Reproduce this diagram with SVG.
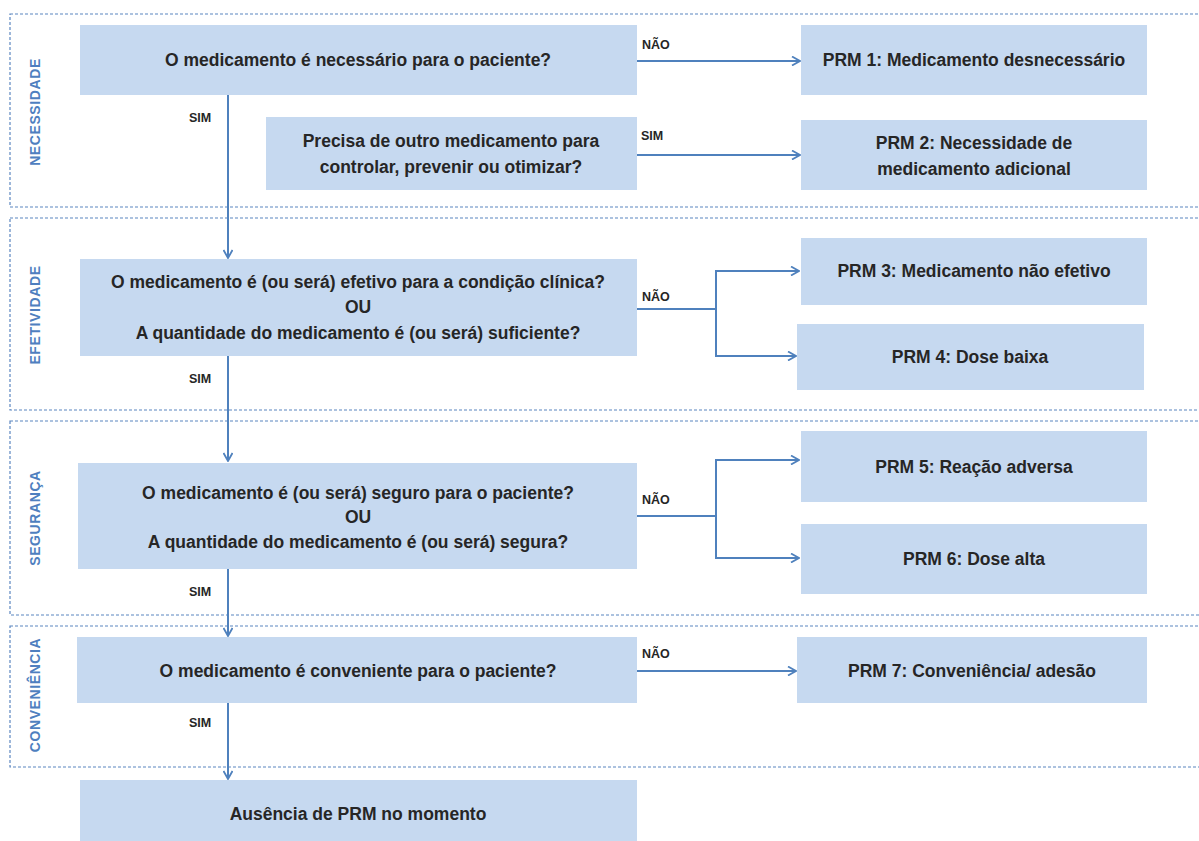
<svg xmlns="http://www.w3.org/2000/svg" width="1199" height="841" viewBox="0 0 1199 841">
<style>
.sec{fill:none;stroke:#5b86c0;stroke-width:1.2;stroke-dasharray:3,2}
.box{fill:#c6d9f0}
.t{font-family:"Liberation Sans",Arial,sans-serif;font-weight:bold;font-size:17.5px;fill:#262626;text-anchor:middle}
.lab{font-family:"Liberation Sans",Arial,sans-serif;font-weight:bold;font-size:12.5px;fill:#262626}
.seclab{font-family:"Liberation Sans",Arial,sans-serif;font-weight:bold;font-size:14px;fill:#4f7fbf;text-anchor:middle;letter-spacing:0.6px}
.ln{fill:none;stroke:#4f81bd;stroke-width:2}
</style>
<defs>
<marker id="arr" viewBox="0 0 10 10" refX="9" refY="5" markerWidth="10" markerHeight="10" markerUnits="userSpaceOnUse" orient="auto">
<path d="M1,0.5 L9,5 L1,9.5" fill="none" stroke="#4f81bd" stroke-width="1.8"/>
</marker>
</defs>
<rect width="1199" height="841" fill="#ffffff"/>
<g id="sections">
<rect class="sec" x="10" y="14" width="1205" height="193"/>
<rect class="sec" x="10" y="218" width="1205" height="192"/>
<rect class="sec" x="10" y="421" width="1205" height="194"/>
<rect class="sec" x="10" y="626" width="1205" height="141"/>
<text class="seclab" transform="translate(40,112) rotate(-90)">NECESSIDADE</text>
<text class="seclab" transform="translate(40,315) rotate(-90)">EFETIVIDADE</text>
<text class="seclab" transform="translate(40,518) rotate(-90)">SEGURANÇA</text>
<text class="seclab" transform="translate(40,695) rotate(-90)">CONVENIÊNCIA</text>
</g>
<g id="connectors">
<path class="ln" d="M228,95 V258" marker-end="url(#arr)"/>
<path class="ln" d="M637,61 H800" marker-end="url(#arr)"/>
<path class="ln" d="M637,155 H800" marker-end="url(#arr)"/>
<path class="ln" d="M637,309 H716 V271 H799" marker-end="url(#arr)"/>
<path class="ln" d="M716,309 V356 H796" marker-end="url(#arr)"/>
<path class="ln" d="M228,356 V461" marker-end="url(#arr)"/>
<path class="ln" d="M637,516 H716 V460 H799" marker-end="url(#arr)"/>
<path class="ln" d="M716,516 V558 H799" marker-end="url(#arr)"/>
<path class="ln" d="M228,569 V636" marker-end="url(#arr)"/>
<path class="ln" d="M637,671 H796" marker-end="url(#arr)"/>
<path class="ln" d="M228,703 V779" marker-end="url(#arr)"/>
<text class="lab" x="642" y="49">NÃO</text>
<text class="lab" x="641" y="140">SIM</text>
<text class="lab" x="189" y="122">SIM</text>
<text class="lab" x="642" y="301">NÃO</text>
<text class="lab" x="189" y="383">SIM</text>
<text class="lab" x="642" y="504">NÃO</text>
<text class="lab" x="189" y="596">SIM</text>
<text class="lab" x="642" y="658">NÃO</text>
<text class="lab" x="189" y="727">SIM</text>
</g>
<g id="q1"><rect class="box" x="80" y="25" width="557" height="70"/><text class="t" x="358" y="66">O medicamento é necessário para o paciente?</text></g>
<g id="q2"><rect class="box" x="266" y="117" width="371" height="73"/><text class="t" x="451" y="147">Precisa de outro medicamento para</text><text class="t" x="451" y="173">controlar, prevenir ou otimizar?</text></g>
<g id="prm1"><rect class="box" x="801" y="25" width="346" height="70"/><text class="t" x="974" y="66">PRM 1: Medicamento desnecessário</text></g>
<g id="prm2"><rect class="box" x="801" y="120" width="346" height="70"/><text class="t" x="974" y="149">PRM 2: Necessidade de</text><text class="t" x="974" y="175">medicamento adicional</text></g>
<g id="q3"><rect class="box" x="80" y="259" width="557" height="97"/><text class="t" x="358" y="288">O medicamento é (ou será) efetivo para a condição  clínica?</text><text class="t" x="358" y="313">OU</text><text class="t" x="358" y="339">A quantidade  do medicamento é (ou será) suficiente?</text></g>
<g id="prm3"><rect class="box" x="801" y="238" width="346" height="67"/><text class="t" x="974" y="277">PRM 3: Medicamento não efetivo</text></g>
<g id="prm4"><rect class="box" x="797" y="324" width="347" height="66"/><text class="t" x="970" y="363">PRM 4: Dose baixa</text></g>
<g id="q4"><rect class="box" x="78" y="463" width="559" height="106"/><text class="t" x="358" y="499">O medicamento é (ou será) seguro para o paciente?</text><text class="t" x="358" y="523">OU</text><text class="t" x="358" y="548">A quantidade do medicamento é (ou será) segura?</text></g>
<g id="prm5"><rect class="box" x="801" y="431" width="346" height="71"/><text class="t" x="974" y="473">PRM 5: Reação adversa</text></g>
<g id="prm6"><rect class="box" x="801" y="524" width="346" height="70"/><text class="t" x="974" y="565">PRM 6: Dose alta</text></g>
<g id="q5"><rect class="box" x="77" y="637" width="560" height="66"/><text class="t" x="358" y="677">O medicamento é conveniente para o paciente?</text></g>
<g id="prm7"><rect class="box" x="797" y="637" width="350" height="66"/><text class="t" x="972" y="677">PRM 7: Conveniência/ adesão</text></g>
<g id="final"><rect class="box" x="80" y="780" width="557" height="61"/><text class="t" x="358" y="820">Ausência de PRM no momento</text></g>
</svg>
